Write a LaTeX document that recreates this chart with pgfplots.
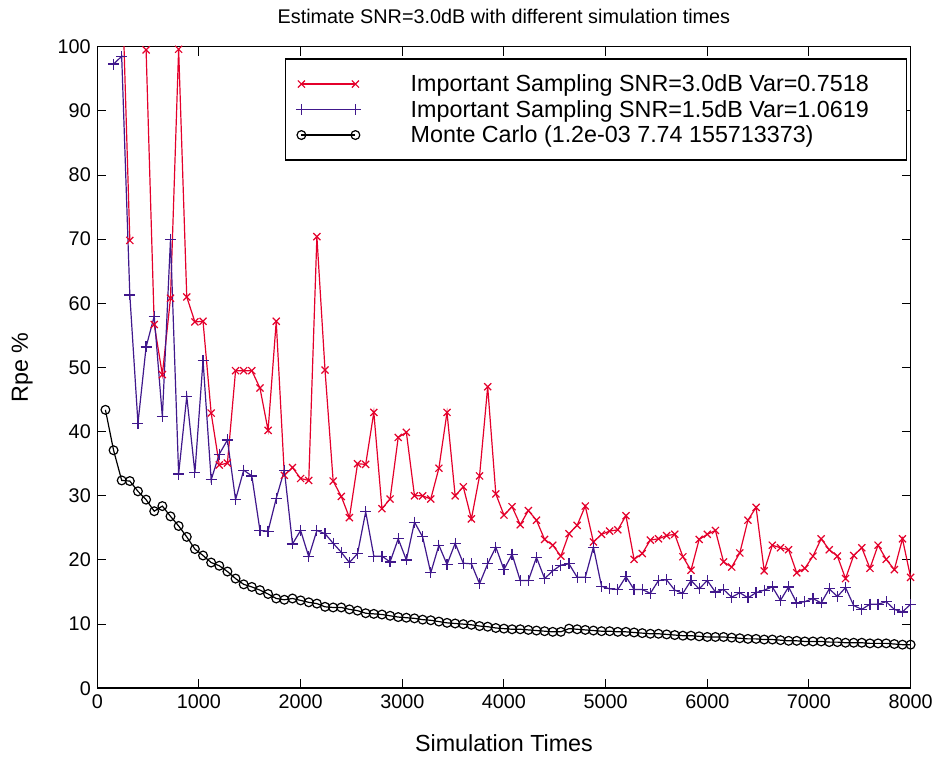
\documentclass[border=0pt]{standalone}
\usepackage{fontspec}
\setmainfont{Liberation Sans}
\usepackage{pgfplots}
\usepackage{pgfplotstable}
\pgfplotsset{compat=1.18}
\definecolor{isred}{RGB}{228,0,43}
\definecolor{isblue}{RGB}{64,24,140}

\pgfplotstableread{
x y
240 112
320 69.8
400 nan
480 99.5
560 56.7
640 48.9
720 60.8
800 99.6
880 61.0
960 57.1
1040 57.2
1120 42.9
1200 34.8
1280 35.1
1360 49.5
1440 49.5
1520 49.5
1600 46.8
1680 40.2
1760 57.2
1840 33.2
1920 34.4
2000 32.7
2080 32.4
2160 70.4
2240 49.6
2320 32.3
2400 29.9
2480 26.6
2560 35.0
2640 34.9
2720 43.0
2800 28.0
2880 29.5
2960 39.1
3040 39.9
3120 30.0
3200 30.0
3280 29.5
3360 34.3
3440 43.0
3520 30.0
3600 31.4
3680 26.4
3760 33.1
3840 47.0
3920 30.3
4000 27.0
4080 28.3
4160 25.5
4240 27.7
4320 26.2
4400 23.2
4480 22.3
4560 20.6
4640 24.1
4720 25.4
4800 28.4
4880 22.8
4960 24.0
5040 24.5
5120 24.7
5200 26.9
5280 20.1
5360 21.0
5440 23.1
5520 23.3
5600 23.8
5680 24.0
5760 20.5
5840 18.4
5920 23.2
6000 24.0
6080 24.6
6160 19.7
6240 18.9
6320 21.1
6400 26.2
6480 28.2
6560 18.3
6640 22.3
6720 21.9
6800 21.6
6880 18.0
6960 18.7
7040 20.6
7120 23.3
7200 21.6
7280 20.6
7360 17.1
7440 20.7
7520 21.9
7600 18.7
7680 22.3
7760 20.1
7840 18.5
7920 23.3
8000 17.3
}\redtab

\pgfplotstableread{
x y
160 97.3
240 98.5
320 61.3
400 41.3
480 53.2
560 58.0
640 42.3
720 70.0
800 33.4
880 45.5
960 33.6
1040 51.1
1120 32.5
1200 36.5
1280 38.7
1360 29.4
1440 34.0
1520 33.1
1600 24.6
1680 24.5
1760 29.6
1840 34.0
1920 22.5
2000 24.6
2080 20.5
2160 24.6
2240 24.1
2320 22.6
2400 21.2
2480 19.6
2560 21.0
2640 27.5
2720 20.6
2800 20.6
2880 19.7
2960 23.3
3040 20.0
3120 25.9
3200 23.6
3280 18.0
3360 22.3
3440 19.3
3520 22.6
3600 19.5
3680 19.4
3760 16.3
3840 19.4
3920 22.0
4000 18.5
4080 20.9
4160 16.8
4240 16.8
4320 20.4
4400 17.1
4480 18.3
4560 19.2
4640 19.4
4720 17.3
4800 17.3
4880 22.0
4960 15.9
5040 15.5
5120 15.4
5200 17.4
5280 15.4
5360 15.4
5440 14.8
5520 16.8
5600 16.9
5680 15.3
5760 14.8
5840 16.8
5920 15.5
6000 16.8
6080 15.0
6160 15.4
6240 14.2
6320 14.9
6400 14.1
6480 14.9
6560 15.3
6640 15.8
6720 13.7
6800 15.8
6880 13.3
6960 13.5
7040 14.0
7120 13.3
7200 15.5
7280 14.3
7360 15.7
7440 12.9
7520 12.3
7600 13.1
7680 13.1
7760 13.5
7840 12.3
7920 11.9
8000 13.1
}\bluetab

\pgfplotstableread{
x y
80 43.4
160 37.1
240 32.4
320 32.3
400 30.7
480 29.4
560 27.6
640 28.4
720 26.8
800 25.3
880 23.6
960 21.7
1040 20.7
1120 19.6
1200 19.1
1280 18.2
1360 17.1
1440 16.2
1520 15.8
1600 15.3
1680 14.7
1760 14.0
1840 13.8
1920 14.0
2000 13.7
2080 13.4
2160 13.2
2240 12.7
2320 12.6
2400 12.6
2480 12.3
2560 12.1
2640 11.7
2720 11.6
2800 11.5
2880 11.3
2960 11.1
3040 11.0
3120 10.9
3200 10.7
3280 10.6
3360 10.4
3440 10.2
3520 10.1
3600 10.0
3680 9.9
3760 9.7
3840 9.6
3920 9.4
4000 9.3
4080 9.2
4160 9.2
4240 9.1
4320 9.0
4400 8.9
4480 8.8
4560 8.8
4640 9.3
4720 9.2
4800 9.1
4880 9.0
4960 8.9
5040 8.9
5120 8.8
5200 8.8
5280 8.7
5360 8.6
5440 8.5
5520 8.5
5600 8.4
5680 8.3
5760 8.2
5840 8.2
5920 8.1
6000 8.0
6080 8.0
6160 8.0
6240 7.9
6320 7.8
6400 7.7
6480 7.7
6560 7.6
6640 7.6
6720 7.5
6800 7.4
6880 7.4
6960 7.3
7040 7.3
7120 7.3
7200 7.2
7280 7.2
7360 7.1
7440 7.1
7520 7.1
7600 7.0
7680 7.0
7760 7.0
7840 6.9
7920 6.8
8000 6.8
}\mctab

\begin{document}
\begin{tikzpicture}[x=1pt,y=1pt]
\useasboundingbox (0,0) rectangle (940,760);
\begin{axis}[
  at={(97.3pt,71.7pt)}, anchor=south west,
  scale only axis, width=813.3pt, height=641.6pt,
  xmin=0, xmax=8000, ymin=0, ymax=100,
  xtick={0,1000,...,8000}, ytick={0,10,...,100},
  tick align=inside, tick pos=both, major tick length=9pt,
  axis line style={line width=1.6pt},
  every tick/.style={black, line width=1pt},
  /pgf/number format/assume math mode=true,
  /pgf/number format/set thousands separator={},
  scaled ticks=false,
  tick label style={font=\fontsize{19.8}{24}\selectfont},
  xticklabel style={yshift=-3pt},
  yticklabel style={xshift=-3pt},
  title={Estimate SNR=3.0dB with different simulation times},
  title style={font=\fontsize{19.8}{24}\selectfont, at={(axis description cs:0.5,1.0374)}, anchor=center},
  xlabel={Simulation Times},
  xlabel style={font=\fontsize{23.3}{27}\selectfont, at={(axis description cs:0.5,-0.0857)}, anchor=center},
  ylabel={Rpe \%},
  ylabel style={font=\fontsize{23.3}{27}\selectfont, at={(axis description cs:-0.0922,0.5)}, anchor=center},
  unbounded coords=jump,
  legend style={at={(axis description cs:0.2308,0.9819)}, anchor=north west,
    draw=black, line width=1.4pt, font=\fontsize{23.3}{27}\selectfont,
    inner xsep=0pt, inner ysep=12.3pt, row sep=0pt, column sep=0pt,
    nodes={inner sep=0pt},
    legend cell align=left},
  legend image code/.code={
    \path[draw=none,fill=none] (-15.7pt,-12.75pt) rectangle (109.3pt,12.75pt);
    \draw[line width=1.2pt, mark repeat=1, mark options={line width=1.2pt}] plot coordinates {(0pt,0pt) (54pt,0pt)};
  },
]
\addplot[color=isred, line width=1.2pt, mark=x, mark size=5pt, mark options={line width=1.2pt}] table[x=x,y=y] {\redtab};
\addlegendentry{Important Sampling SNR=3.0dB Var=0.7518\kern38pt}
\addplot[color=isblue, line width=1.2pt, mark=+, mark size=5.5pt, mark options={line width=1.2pt}] table[x=x,y=y] {\bluetab};
\addlegendentry{Important Sampling SNR=1.5dB Var=1.0619\kern38pt}
\addplot[color=black, line width=1.2pt, mark=o, mark size=4.4pt, mark options={line width=1.2pt}] table[x=x,y=y] {\mctab};
\addlegendentry{Monte Carlo (1.2e-03 7.74 155713373)}
\end{axis}
\end{tikzpicture}
\end{document}
